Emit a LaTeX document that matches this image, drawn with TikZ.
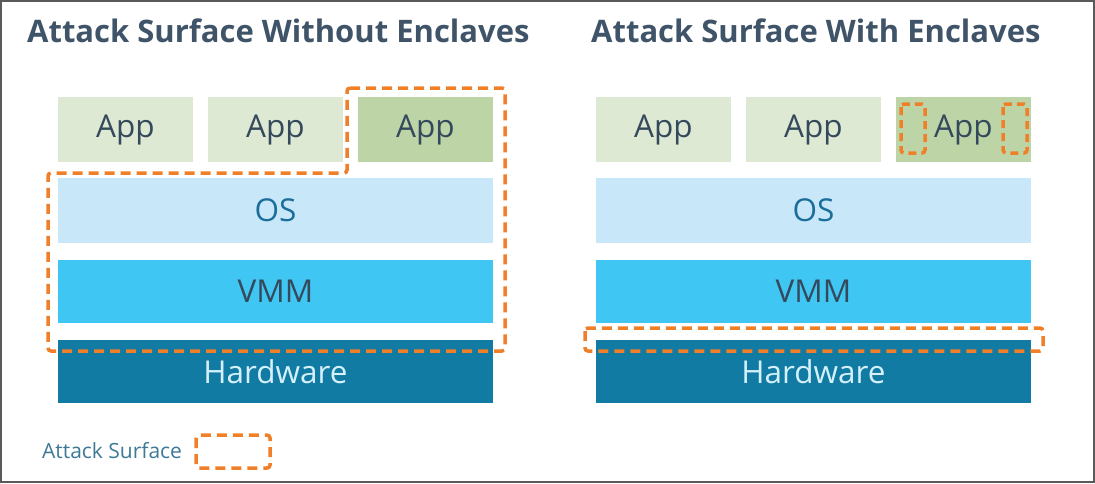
\documentclass[tikz,border=0pt]{standalone}
\usepackage{fontspec}
\setmainfont{Open Sans}
\definecolor{titlec}{HTML}{3F5468}
\definecolor{appc}{HTML}{DDE9D3}
\definecolor{appsel}{HTML}{BDD5A6}
\definecolor{osc}{HTML}{C8E8FA}
\definecolor{vmmc}{HTML}{40C6F2}
\definecolor{hwc}{HTML}{127BA3}
\definecolor{hwtext}{HTML}{D4F0FA}
\definecolor{ostext}{HTML}{1B6E99}
\definecolor{darktext}{HTML}{34495C}
\definecolor{attack}{HTML}{F07F2A}
\definecolor{legendc}{HTML}{3E7A96}
\definecolor{framec}{HTML}{5A5A5A}
\begin{document}
\begin{tikzpicture}[x=1pt,y=-1pt,
  layer/.style={inner sep=0pt, minimum width=#1, font=\fontsize{31.5}{34}\selectfont},
  appbox/.style={layer=135pt, minimum height=65pt, fill=appc, text=darktext},
  appsbox/.style={layer=135pt, minimum height=65pt, fill=appsel, text=darktext},
  osbox/.style={layer=435pt, minimum height=65pt, fill=osc, text=ostext},
  vmmbox/.style={layer=435pt, minimum height=63pt, fill=vmmc, text=darktext},
  hwbox/.style={layer=435pt, minimum height=63pt, fill=hwc, text=hwtext},
  surface/.style={draw=attack, line width=3.5pt, dash pattern=on 10pt off 6pt, rounded corners=3pt},
  title/.style={font=\fontsize{31}{34}\selectfont\bfseries, text=titlec, anchor=base west, inner sep=0pt}
]
\useasboundingbox (0,0) rectangle (1095,483);
\fill[white] (0,0) rectangle (1095,483);
\draw[framec, line width=2pt] (1,1) rectangle (1094,482);

% titles
\node[title] (t1) at (27,42) {Attack Surface Without Enclaves};
\node[title] (t2) at (591,42) {Attack Surface With Enclaves};

% left stack
\node[appbox] (la1) at (125.5,129.5) {App};
\node[appbox] (la2) at (275.5,129.5) {App};
\node[appsbox] (la3) at (425.5,129.5) {App};
\node[osbox] (los) at (275.5,210.5) {OS};
\node[vmmbox] (lvmm) at (275.5,291.5) {VMM};
\node[hwbox] (lhw) at (275.5,371.5) {Hardware};

% right stack
\node[appbox] (ra1) at (663.5,129.5) {App};
\node[appbox] (ra2) at (813.5,129.5) {App};
\node[appsbox] (ra3) at (963.5,129.5) {App};
\node[osbox] (ros) at (813.5,210.5) {OS};
\node[vmmbox] (rvmm) at (813.5,291.5) {VMM};
\node[hwbox] (rhw) at (813.5,371.5) {Hardware};

% attack surfaces
\draw[surface] (347,88) -- (505,88) -- (505,351) -- (48,351) -- (48,173) -- (347,173) -- cycle;
\draw[surface] (585,328) rectangle (1043,351);
\draw[surface, dash pattern=on 8pt off 5pt] (901,104) rectangle (925,153);
\draw[surface, dash pattern=on 8pt off 5pt] (1003,104) rectangle (1027,153);

% legend
\node[font=\fontsize{21}{24}\selectfont, text=legendc, anchor=base west, inner sep=0pt] (leg) at (42,458) {Attack Surface};
\draw[surface] (196,435) rectangle (270,468);
\end{tikzpicture}
\end{document}
